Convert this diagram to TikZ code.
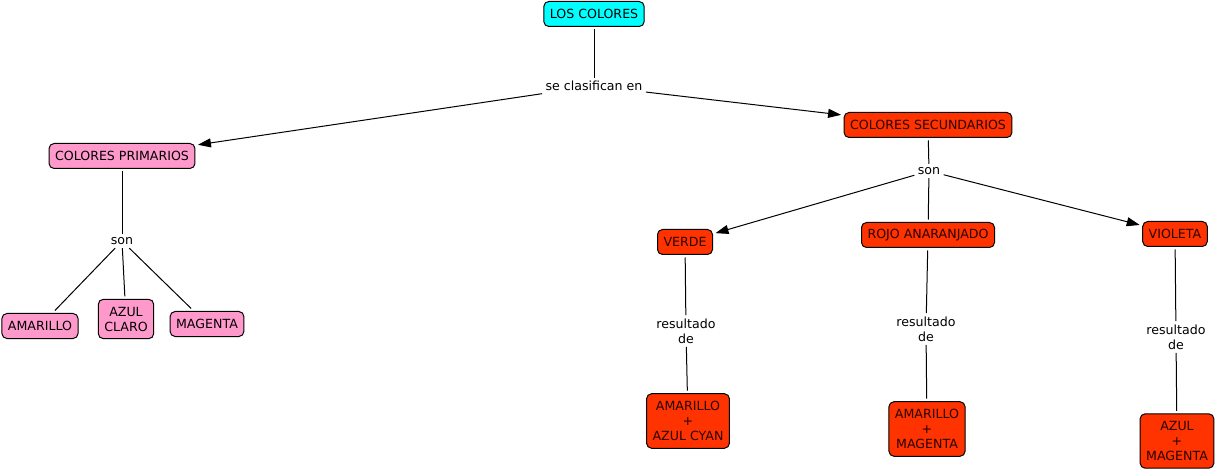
\documentclass[tikz,border=0pt]{standalone}
\usepackage{fontspec}
\setmainfont{DejaVu Sans}
\usetikzlibrary{arrows.meta, positioning}
\definecolor{cmapcyan}{RGB}{0,255,255}
\definecolor{cmappink}{RGB}{255,153,204}
\definecolor{cmapred}{RGB}{255,51,0}
\definecolor{cmaptext}{RGB}{40,0,0}

\begin{document}
\begin{tikzpicture}[x=1pt, y=-1pt, line width=1pt,
    concept/.style={draw, rounded corners=5pt, inner xsep=6pt, inner ysep=4pt, minimum height=25pt, align=center, font=\fontsize{12.6}{15}\selectfont, outer sep=3pt},
    raiz/.style={concept, fill=cmapcyan},
    primario/.style={concept, fill=cmappink},
    secundario/.style={concept, fill=cmapred, text=cmaptext},
    varias/.style={inner ysep=7.5pt},
    enlace/.style={fill=white, inner sep=3pt, align=center, font=\fontsize{12.6}{15}\selectfont},
    flecha/.style={-{Triangle[length=13pt, width=9pt]}}]
    \useasboundingbox (0,0) rectangle (1218,470);

    % Concepts
    \node[raiz] (colores) at (594,14) {LOS COLORES};
    \node[primario] (primarios) at (122,156) {COLORES PRIMARIOS};
    \node[secundario] (secundarios) at (928,125) {COLORES SECUNDARIOS};
    \node[primario] (amarillo) at (40,326) {AMARILLO};
    \node[primario, varias] (azulclaro) at (126,319) {AZUL\\CLARO};
    \node[primario] (magenta) at (207,324) {MAGENTA};
    \node[secundario] (verde) at (685,242) {VERDE};
    \node[secundario] (rojo) at (928,235) {ROJO ANARANJADO};
    \node[secundario] (violeta) at (1175,234) {VIOLETA};
    \node[secundario, varias] (mezclaA) at (688,421) {AMARILLO\\+\\AZUL CYAN};
    \node[secundario, varias] (mezclaB) at (927,429) {AMARILLO\\+\\MAGENTA};
    \node[secundario, varias] (mezclaC) at (1177,441) {AZUL\\+\\MAGENTA};

    % Linking phrases
    \node[enlace] (clasifican) at (594,86) {se clasifican en};
    \node[enlace] (sonP) at (122,241) {son};
    \node[enlace] (sonS) at (929,171) {son};
    \node[enlace] (resA) at (686,331) {resultado\\de};
    \node[enlace] (resB) at (926,329) {resultado\\de};
    \node[enlace] (resC) at (1176,337) {resultado\\de};

    % Connectors
    \draw (colores) -- (clasifican);
    \draw[flecha] (clasifican) -- (primarios);
    \draw[flecha] (clasifican) -- (secundarios);
    \draw (primarios) -- (sonP);
    \foreach \c in {amarillo, azulclaro, magenta}
        \draw (sonP) -- (\c);
    \draw (secundarios) -- (sonS);
    \draw[flecha] (sonS) -- (verde);
    \draw (sonS) -- (rojo);
    \draw[flecha] (sonS) -- (violeta);
    \draw (verde) -- (resA) -- (mezclaA);
    \draw (rojo) -- (resB) -- (mezclaB);
    \draw (violeta) -- (resC) -- (mezclaC);
\end{tikzpicture}
\end{document}
